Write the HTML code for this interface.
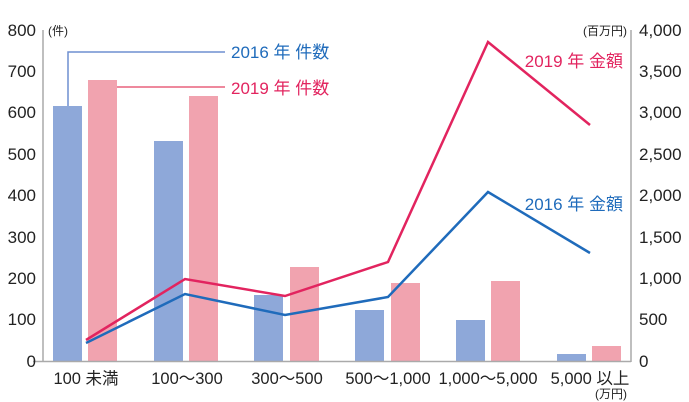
<!DOCTYPE html>
<html><head><meta charset="utf-8"><style>
html,body{margin:0;padding:0;background:#fff;}
svg{display:block;font-family:"Liberation Sans","Noto Sans CJK JP",sans-serif;}
</style></head><body>
<svg width="689" height="402" viewBox="0 0 689 402">
<g fill="#8ea8d9">
<rect x="53" y="106" width="29" height="255"/>
<rect x="154" y="141" width="29" height="220"/>
<rect x="254" y="295" width="29" height="66"/>
<rect x="355" y="310" width="29" height="51"/>
<rect x="456" y="320" width="29" height="41"/>
<rect x="557" y="354" width="29" height="7"/>
</g>
<g fill="#f1a3af">
<rect x="88" y="80" width="29" height="281"/>
<rect x="189" y="96" width="29" height="265"/>
<rect x="290" y="267" width="29" height="94"/>
<rect x="391" y="283" width="29" height="78"/>
<rect x="491" y="281" width="29" height="80"/>
<rect x="592" y="346" width="29" height="15"/>
</g>
<g stroke="#aaa" stroke-width="1.5" fill="none">
<line x1="43" y1="30" x2="43" y2="362"/>
<line x1="631" y1="30" x2="631" y2="362"/>
<line x1="33" y1="361.5" x2="631" y2="361.5"/>
</g>
<polyline points="68,106 68,52 225,52" fill="none" stroke="#6f8fd0" stroke-width="1.5"/>
<polyline points="117,87 225,87" fill="none" stroke="#e8627d" stroke-width="1.5"/>
<polyline points="86,340 185,279 285,296 388,262 488,42 590,125" fill="none" stroke="#e2245f" stroke-width="2.5"/>
<polyline points="86,343 185,294 285,315 388,297 488,192 590,253" fill="none" stroke="#1f6bbb" stroke-width="2.5"/>
<g font-size="17" fill="#222" text-anchor="end">
<text x="36" y="36">800</text><text x="36" y="77">700</text><text x="36" y="118">600</text><text x="36" y="160">500</text><text x="36" y="201">400</text><text x="36" y="243">300</text><text x="36" y="284">200</text><text x="36" y="325">100</text><text x="36" y="367">0</text>
</g>
<g font-size="17" fill="#222" text-anchor="start">
<text x="639" y="36">4,000</text><text x="639" y="77">3,500</text><text x="639" y="118">3,000</text><text x="639" y="160">2,500</text><text x="639" y="201">2,000</text><text x="639" y="243">1,500</text><text x="639" y="284">1,000</text><text x="639" y="325">500</text><text x="639" y="367">0</text>
</g>
<text x="48" y="35" font-size="12" fill="#222">(件)</text>
<text x="627" y="35" font-size="12" fill="#222" text-anchor="end">(百万円)</text>
<text x="627" y="398" font-size="12" fill="#222" text-anchor="end">(万円)</text>
<g font-size="16.5" fill="#222" text-anchor="middle">
<text x="86" y="384">100 未満</text>
<text x="187" y="384">100～300</text>
<text x="287" y="384">300～500</text>
<text x="388" y="384">500～1,000</text>
<text x="488" y="384">1,000～5,000</text>
<text x="590" y="384">5,000 以上</text>
</g>
<g font-size="17">
<text x="231" y="58" fill="#1f6bbb">2016 年 件数</text>
<text x="231" y="94" fill="#e2245f">2019 年 件数</text>
<text x="623" y="67" fill="#e2245f" text-anchor="end">2019 年 金額</text>
<text x="623" y="210" fill="#1f6bbb" text-anchor="end">2016 年 金額</text>
</g>
</svg>
</body></html>
